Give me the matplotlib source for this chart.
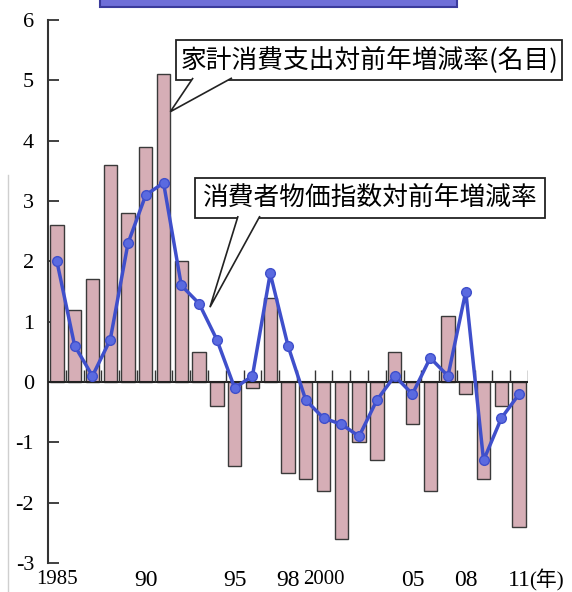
import numpy as np
import matplotlib
matplotlib.use("Agg")
import matplotlib.pyplot as plt
from matplotlib.patches import Polygon, Rectangle

# year-on-year change (%), 1985-2011
years = list(range(1985, 2012))
spending = [2.6, 1.2, 1.7, 3.6, 2.8, 3.9, 5.1, 2.0, 0.5, -0.4, -1.4, -0.1, 1.4,
            -1.5, -1.6, -1.8, -2.6, -1.0, -1.3, 0.5, -0.7, -1.8, 1.1, -0.2,
            -1.6, -0.4, -2.4]
cpi = [2.0, 0.6, 0.1, 0.7, 2.3, 3.1, 3.3, 1.6, 1.3, 0.7, -0.1, 0.1, 1.8, 0.6,
       -0.3, -0.6, -0.7, -0.9, -0.3, 0.1, -0.2, 0.4, 0.1, 1.5, -1.3, -0.6, -0.2]

tick_years = [1985, 1990, 1995, 1998, 2000, 2005, 2008, 2011]
tick_labels = ["1985", "90", "95", "98", "2000", "05", "08", "11"]

label_spending = "家計消費支出対前年増減率(名目)"
label_cpi = "消費者物価指数対前年増減率"

BAR_COLOR = "#d6aeb6"
LINE_COLOR = "#3f4fcb"
CJK = ["Noto Sans CJK JP", "DejaVu Sans"]
SERIF = ["Liberation Serif", "Noto Sans CJK JP"]

fig = plt.figure(figsize=(5.72, 5.92), dpi=100)
ax = fig.add_axes([48 / 572, 1 - 563 / 592, 480 / 572, 543 / 592])

n = len(years)
x = np.arange(n) + 0.5

ax.bar(x, spending, width=0.75, color=BAR_COLOR, edgecolor="#3a3a3a",
       linewidth=1.0, zorder=2)
ax.axhline(0, color="#222222", linewidth=1.5, zorder=3)
ax.vlines(np.arange(1, n + 1), 0, 0.2, color="#333333", linewidth=1.0, zorder=3)
ax.plot(x, cpi, color=LINE_COLOR, linewidth=2.5, marker="o", markersize=7,
        markerfacecolor="#5a6ae0", markeredgecolor=LINE_COLOR, zorder=4)

ax.set_xlim(0, n)
ax.set_ylim(-3, 6)

for side in ["top", "right", "bottom"]:
    ax.spines[side].set_visible(False)
ax.spines["left"].set_linewidth(1.5)
ax.spines["left"].set_color("#333333")

ax.set_yticks(range(-3, 7))
ax.set_yticklabels([str(v) for v in range(-3, 7)], family=SERIF, fontsize=16)
ax.tick_params(axis="y", direction="in", length=8, width=1.3, pad=10,
               color="#333333")

ax.set_xticks([years.index(y) + 0.5 for y in tick_years])
ax.set_xticklabels(tick_labels, family=SERIF, fontsize=17)
for lab in ax.get_xticklabels():
    if len(lab.get_text()) == 4:
        lab.set_fontsize(15)
ax.tick_params(axis="x", length=0, pad=5)
ax.text(27.05, -3.1, "(年)", family=SERIF, fontsize=15, va="top", ha="left",
        clip_on=False)


def callout(box, tip, base, text, text_xy):
    rect = Rectangle((box[0], box[2]), box[1] - box[0], box[3] - box[2],
                     facecolor="white", edgecolor="#222222", linewidth=1.3,
                     zorder=6, clip_on=False)
    ax.add_patch(rect)
    yb = box[2] + 0.03
    wedge = Polygon([(base[0], yb), tip, (base[1], yb)], closed=False,
                    facecolor="white", edgecolor="#222222", linewidth=1.2,
                    zorder=7, clip_on=False)
    ax.add_patch(wedge)
    ax.text(text_xy[0], text_xy[1], text, family=CJK, fontsize=18.5,
            ha="center", va="center", zorder=8)


callout((7.2, 28.9, 5.01, 5.67), (6.88, 4.48), (8.16, 10.35),
        label_spending, (18.1, 5.34))
callout((8.27, 27.95, 2.72, 3.38), (9.11, 1.24), (10.69, 11.92),
        label_cpi, (18.1, 3.05))

# cut-off title banner and page edge from the scan
fig.patches.append(Rectangle((100 / 572, 1 - 7 / 592), 357 / 572, 12 / 592,
                             facecolor="#6f6fd8", edgecolor="#3b3b9c",
                             linewidth=1.5, transform=fig.transFigure,
                             figure=fig))
fig.lines.append(plt.Line2D([8 / 572, 8 / 572], [0, 1 - 175 / 592],
                            color="#cfcfcf", linewidth=1.0,
                            transform=fig.transFigure, figure=fig))

fig.savefig("out.png", dpi=100)
